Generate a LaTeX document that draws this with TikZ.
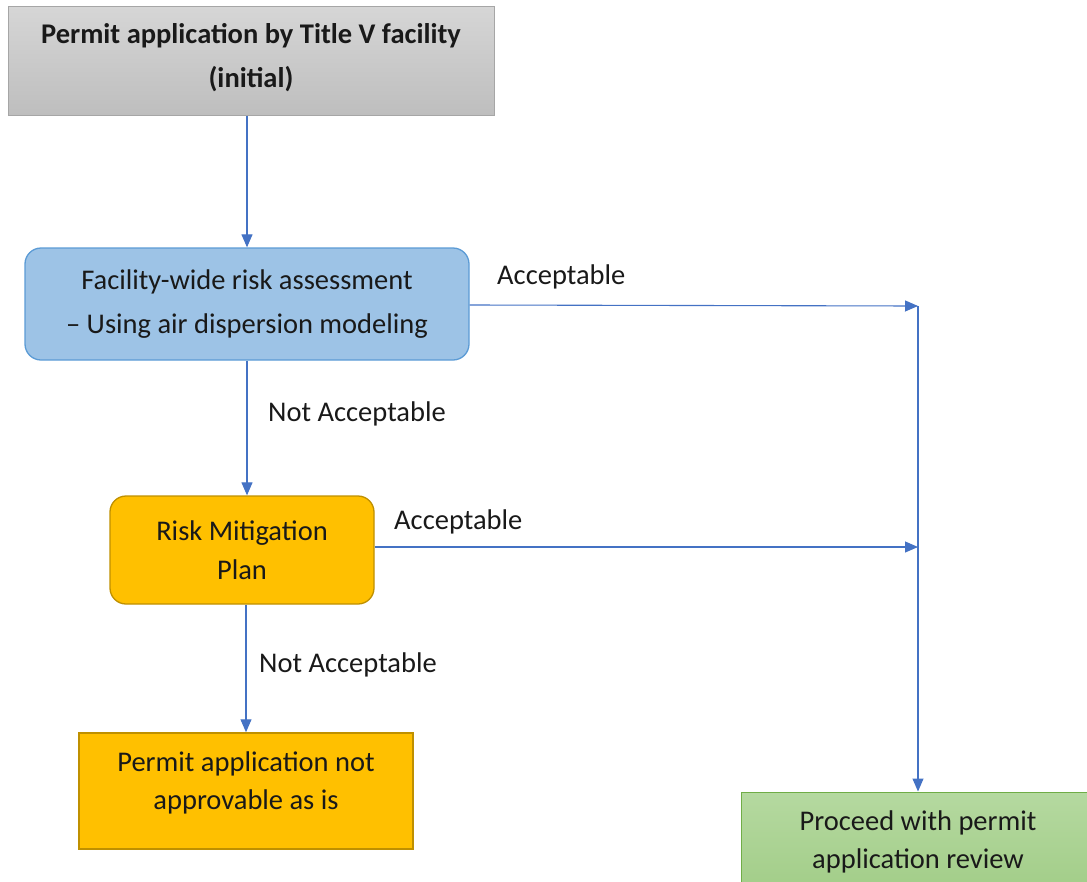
\documentclass[tikz,border=0pt]{standalone}
\usepackage{fontspec}
\setmainfont{Carlito}
\usetikzlibrary{arrows.meta}
\definecolor{arrowblue}{HTML}{4472C4}
\definecolor{boxblue}{HTML}{9DC3E6}
\definecolor{boxblueline}{HTML}{5B9BD5}
\definecolor{boxorange}{HTML}{FFC000}
\definecolor{boxorangeline}{HTML}{BF9000}
\definecolor{greentop}{HTML}{B5D9A0}
\definecolor{greenbot}{HTML}{A2CD88}
\definecolor{greenline}{HTML}{70AD47}
\definecolor{graytop}{HTML}{D6D6D6}
\definecolor{graybot}{HTML}{BEBEBE}
\definecolor{grayline}{HTML}{A6A6A6}
\tikzset{
  boxtext/.style={align=center, text=black!90, inner sep=0pt},
  graybox/.style={boxtext, draw=grayline, line width=1pt, top color=graytop, bottom color=graybot, font=\fontsize{28.5}{44}\selectfont\bfseries},
  bluebox/.style={boxtext, draw=boxblueline, line width=1.3pt, fill=boxblue, rounded corners=16pt, font=\fontsize{28.5}{44}\selectfont},
  orangebox/.style={boxtext, draw=boxorangeline, line width=1.3pt, fill=boxorange, rounded corners=16pt, font=\fontsize{28.5}{39}\selectfont},
  orangesq/.style={boxtext, draw=boxorangeline, line width=1.5pt, fill=boxorange, font=\fontsize{28.5}{38}\selectfont},
  greenbox/.style={boxtext, draw=greenline, line width=1pt, top color=greentop, bottom color=greenbot, font=\fontsize{28.5}{38}\selectfont},
  conn/.style={draw=arrowblue, line width=1.1pt, -{Triangle[length=13pt,width=11pt]}},
  lbl/.style={font=\fontsize{28.5}{32}\selectfont, text=black!90, inner sep=0pt, anchor=west}
}
\begin{document}
\begin{tikzpicture}[x=1pt,y=-1pt]
\useasboundingbox (0,0) rectangle (1087,881);
\begin{scope}
\clip (0,0) rectangle (1087,881);
\node[graybox, minimum width=486pt, minimum height=109pt] (init) at (251,60.5) {Permit application by Title V facility\\(initial)\rule[-11pt]{0pt}{1pt}};
\node[bluebox, minimum width=444pt, minimum height=112pt] (risk) at (247,304) {Facility-wide risk assessment\\– Using air dispersion modeling};
\node[orangebox, minimum width=264pt, minimum height=108pt] (rmp) at (242,550) {Risk Mitigation\\Plan};
\node[orangesq, minimum width=334pt, minimum height=116pt] (notok) at (246,791) {Permit application not\\approvable as is\rule[-21pt]{0pt}{1pt}};
\node[greenbox, minimum width=354pt, minimum height=100pt] (proceed) at (918,842) {Proceed with permit\\application review};
\coordinate (j1) at (918,306);
\coordinate (j2) at (918,547);
\draw[conn] (init.south -| risk.north) -- (risk.north);
\draw[conn] (risk.east |- 0,305) -- (j1);
\draw[conn] (risk.south) -- (rmp.north -| risk.south);
\draw[conn] (rmp.east |- j2) -- (j2);
\draw[conn] (rmp.south -| 246,0) -- (notok.north);
\draw[conn] (j1) -- (j1 |- proceed.north);
\node[lbl] (l1) at (497,277) {Acceptable};
\node[lbl] (l2) at (268,414) {Not Acceptable};
\node[lbl] (l3) at (394,522) {Acceptable};
\node[lbl] (l4) at (259,665) {Not Acceptable};
\end{scope}
\end{tikzpicture}
\end{document}
